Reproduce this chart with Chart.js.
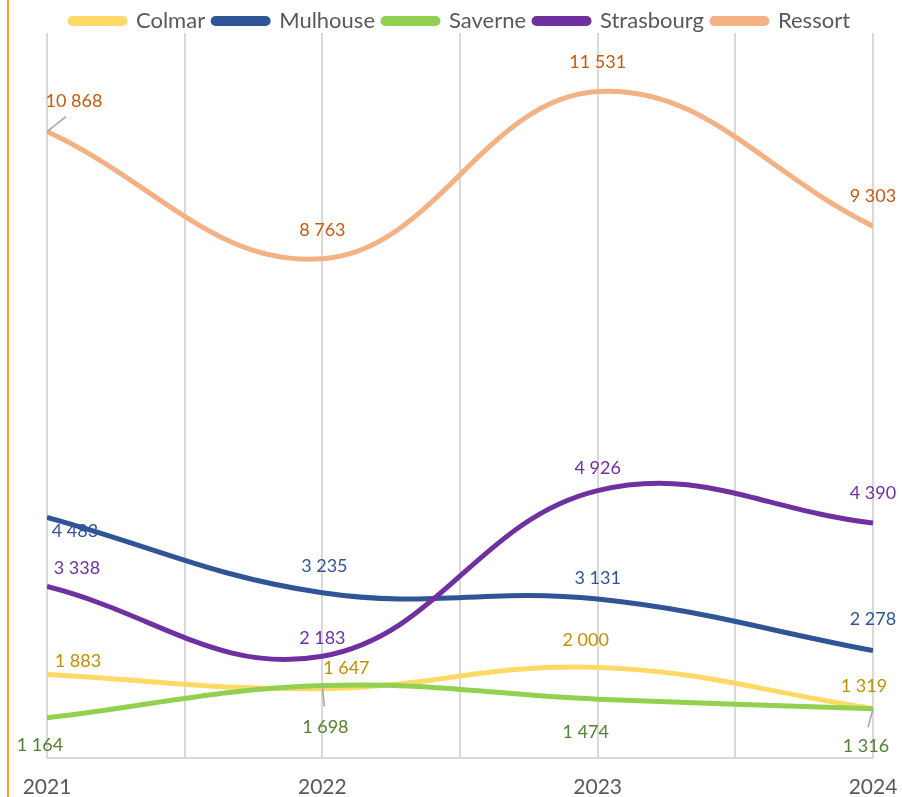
<!DOCTYPE html>
<html lang="fr">
  <head>
    <meta charset="UTF-8" />
    <script src="https://cdn.jsdelivr.net/npm/chart.js@4.4.0/dist/chart.umd.min.js"></script>
    <title>Ressort</title>
    <style>
      body {
        margin: 0;
        padding: 0;
        background: white;
      }
      .container {
        position: relative;
        width: 902px;
        height: 797px;
      }
    </style>
  </head>
  <body>
    <div class="container">
      <canvas id="chart"></canvas>
    </div>
    <script>
      const years = ['2021', '2022', '2023', '2024']
      const colmar = [1883, 1647, 2000, 1319]
      const mulhouse = [4483, 3235, 3131, 2278]
      const saverne = [1164, 1698, 1474, 1316]
      const strasbourg = [3338, 2183, 4926, 4390]
      const ressort = [10868, 8763, 11531, 9303]

      const FONT = 'Lato, "Open Sans", sans-serif'

      // label offsets from the point, [dx, dy, leader line]
      const labelPos = {
        Ressort: [[27, -30, true], [0, -29], [0, -29], [0, -30]],
        Strasbourg: [[30, -18], [0, -18], [0, -22], [0, -30]],
        Saverne: [[-7, 27], [3, 42, true], [-12, 33], [-7, 37, true]],
        Mulhouse: [[28, 14], [2, -27], [0, -21], [0, -31]],
        Colmar: [[31, -13], [24, -21], [-12, -27], [-9, -22]],
      }

      const fmt = (n) => String(n).replace(/\B(?=(\d{3})+(?!\d))/g, ' ')

      const series = [
        { label: 'Ressort', data: ressort, color: '#F4B183', text: '#C55A11' },
        { label: 'Strasbourg', data: strasbourg, color: '#7030A0', text: '#7030A0' },
        { label: 'Saverne', data: saverne, color: '#92D050', text: '#548235' },
        { label: 'Mulhouse', data: mulhouse, color: '#2F5597', text: '#2F5597' },
        { label: 'Colmar', data: colmar, color: '#FFD966', text: '#BF9000' },
      ]

      const labelsPlugin = {
        id: 'pointLabels',
        afterDatasetsDraw(chart) {
          const ctx = chart.ctx
          ctx.save()
          ctx.font = '18px ' + FONT
          ctx.textAlign = 'center'
          ctx.textBaseline = 'middle'
          chart.data.datasets.forEach((ds, i) => {
            const meta = chart.getDatasetMeta(i)
            meta.data.forEach((pt, j) => {
              const [dx, dy, leader] = labelPos[ds.label][j]
              const lx = pt.x + dx
              const ly = pt.y + dy
              if (leader) {
                ctx.strokeStyle = '#a6a6a6'
                ctx.lineWidth = 1.5
                ctx.beginPath()
                ctx.moveTo(pt.x, pt.y)
                ctx.lineTo(pt.x + dx * 0.7, pt.y + dy * 0.5)
                ctx.stroke()
              }
              ctx.fillStyle = ds.textColor
              ctx.fillText(fmt(ds.data[j].y), lx, ly)
            })
          })
          ctx.restore()
        },
      }

      const framePlugin = {
        id: 'frame',
        beforeDraw(chart) {
          const ctx = chart.ctx
          ctx.save()
          ctx.fillStyle = '#F5A31F'
          ctx.fillRect(7, 0, 2, chart.height)
          ctx.restore()
        },
      }

      new Chart(document.getElementById('chart'), {
        type: 'line',
        data: {
          datasets: series.map((s) => ({
            label: s.label,
            data: s.data.map((v, i) => ({ x: i, y: v })),
            borderColor: s.color,
            backgroundColor: s.color,
            textColor: s.text,
            borderWidth: 5,
            pointRadius: 0,
            tension: 0.4,
            fill: false,
          })),
        },
        options: {
          responsive: true,
          maintainAspectRatio: false,
          animation: false,
          layout: { padding: { left: 47, right: 29, top: 2, bottom: 0 } },
          plugins: {
            legend: {
              reverse: true,
              maxHeight: 31,
              labels: {
                boxWidth: 55,
                boxHeight: 5,
                useBorderRadius: true,
                borderRadius: 2.5,
                color: '#595959',
                font: { family: FONT, size: 22 },
                padding: 8,
              },
            },
            tooltip: { enabled: false },
          },
          scales: {
            x: {
              type: 'linear',
              min: 0,
              max: 3,
              afterFit(scale) {
                scale.paddingLeft = 0
                scale.paddingRight = 0
                scale.height = 39
              },
              ticks: {
                stepSize: 0.5,
                autoSkip: false,
                maxRotation: 0,
                padding: 17,
                color: '#595959',
                font: { family: FONT, size: 21 },
                callback: (v) => (Number.isInteger(v) ? years[v] : ''),
              },
              grid: { color: '#d9d9d9', lineWidth: 2, drawTicks: false },
              border: { color: '#d9d9d9', width: 2 },
            },
            y: {
              display: false,
              min: 500,
              max: 12500,
            },
          },
        },
        plugins: [framePlugin, labelsPlugin],
      })
    </script>
  </body>
</html>
